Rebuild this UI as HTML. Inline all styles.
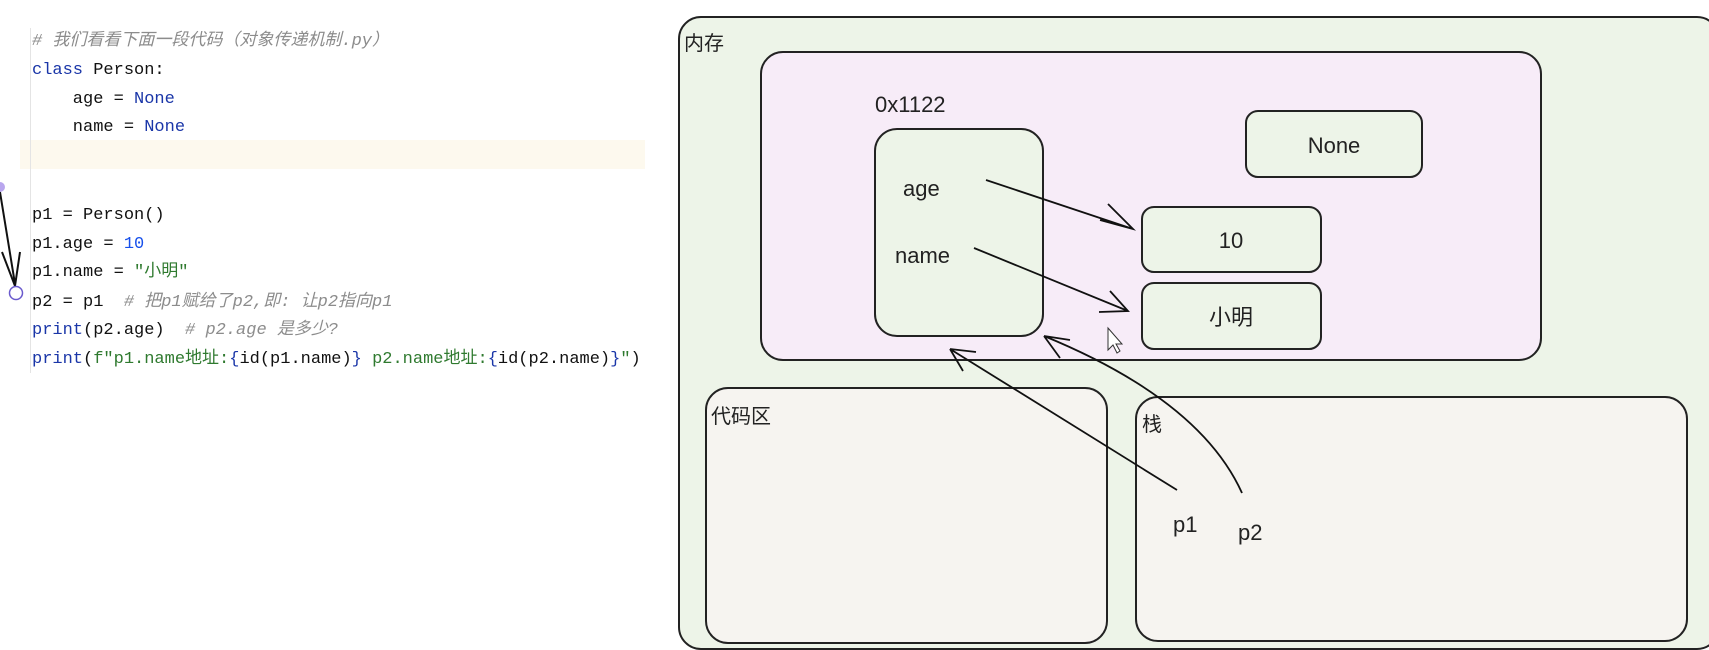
<!DOCTYPE html>
<html><head><meta charset="utf-8"><style>
body{margin:0;width:1709px;height:650px;background:#fff;position:relative;overflow:hidden;font-family:"Liberation Mono","Noto Sans CJK SC",monospace;}
.l{position:absolute;left:32px;font-size:17px;color:#111;white-space:pre;line-height:20px}
.c{color:#8c8c8c;font-style:italic}.k{color:#1a36a8}.n{color:#1750eb}.s{color:#2f7a2f}
svg{position:absolute;left:0;top:0}
</style></head><body>
<div style="position:absolute;left:20px;top:140px;width:625px;height:29px;background:#fdf9ee"></div>
<div style="position:absolute;left:30px;top:28px;width:1px;height:345px;background:#e4e4e4"></div>
<div class="l c" style="top:32px"># 我们看看下面一段代码（对象传递机制.py）</div>
<div class="l" style="top:61px"><span class="k">class</span> Person:</div>
<div class="l" style="top:90px">    age = <span class="k">None</span></div>
<div class="l" style="top:118px">    name = <span class="k">None</span></div>
<div class="l" style="top:206px">p1 = Person()</div>
<div class="l" style="top:235px">p1.age = <span class="n">10</span></div>
<div class="l" style="top:263px">p1.name = <span class="s">"小明"</span></div>
<div class="l" style="top:293px">p2 = p1  <span class="c"># 把p1赋给了p2,即: 让p2指向p1</span></div>
<div class="l" style="top:321px"><span class="k">print</span>(p2.age)  <span class="c"># p2.age 是多少?</span></div>
<div class="l" style="top:350px"><span class="k">print</span>(<span class="s">f"p1.name地址:</span><span class="k">{</span>id(p1.name)<span class="k">}</span><span class="s"> p2.name地址:</span><span class="k">{</span>id(p2.name)<span class="k">}</span><span class="s">"</span>)</div>
<svg width="1709" height="650" font-family="Liberation Sans, Noto Sans CJK SC, sans-serif">
<circle cx="0" cy="187" r="5" fill="#b9a6ee"/>
<path d="M0 192 L15 284 M2 252 L15 286 L20 252" stroke="#111" stroke-width="2" fill="none"/>
<circle cx="16" cy="293" r="6.5" fill="#fff" stroke="#6a5acd" stroke-width="1.5"/>
<g stroke="#222" stroke-width="2">
<rect x="679" y="17" width="1040" height="632" rx="22" fill="#edf4e8"/>
<rect x="761" y="52" width="780" height="308" rx="22" fill="#f7ecf8"/>
<rect x="875" y="129" width="168" height="207" rx="22" fill="#edf4e8"/>
<rect x="1246" y="111" width="176" height="66" rx="12" fill="#edf4e8"/>
<rect x="1142" y="207" width="179" height="65" rx="12" fill="#edf4e8"/>
<rect x="1142" y="283" width="179" height="66" rx="12" fill="#edf4e8"/>
<rect x="706" y="388" width="401" height="255" rx="22" fill="#f6f4f0"/>
<rect x="1136" y="397" width="551" height="244" rx="22" fill="#f6f4f0"/>
</g>
<g fill="#222" font-size="22">
<text x="684" y="50" font-size="20">内存</text>
<text x="875" y="112">0x1122</text>
<text x="903" y="196">age</text>
<text x="895" y="263">name</text>
<text x="1334" y="153" text-anchor="middle">None</text>
<text x="1231" y="248" text-anchor="middle">10</text>
<text x="1231" y="325" text-anchor="middle">小明</text>
<text x="711" y="423" font-size="20">代码区</text>
<text x="1142" y="431" font-size="20">栈</text>
<text x="1173" y="532">p1</text>
<text x="1238" y="540">p2</text>
</g>
<g stroke="#111" stroke-width="1.8" fill="none">
<path d="M986 180 L1133 229 M1100 220 L1133 229 L1108 204"/>
<path d="M974 248 L1128 311 M1099 312 L1128 311 L1110 291"/>
<path d="M1177 490 L950 349 M950 349 L976 352 M950 349 L963 371"/>
<path d="M1242 493 Q1200 400 1044 336 M1044 336 L1070 340 M1044 336 L1060 358"/>
</g>
<path d="M1108 328 L1108 350 L1113 345 L1117 353 L1120 351 L1116 344 L1122 344 Z" fill="#fff" stroke="#333"/>
</svg>
</body></html>
